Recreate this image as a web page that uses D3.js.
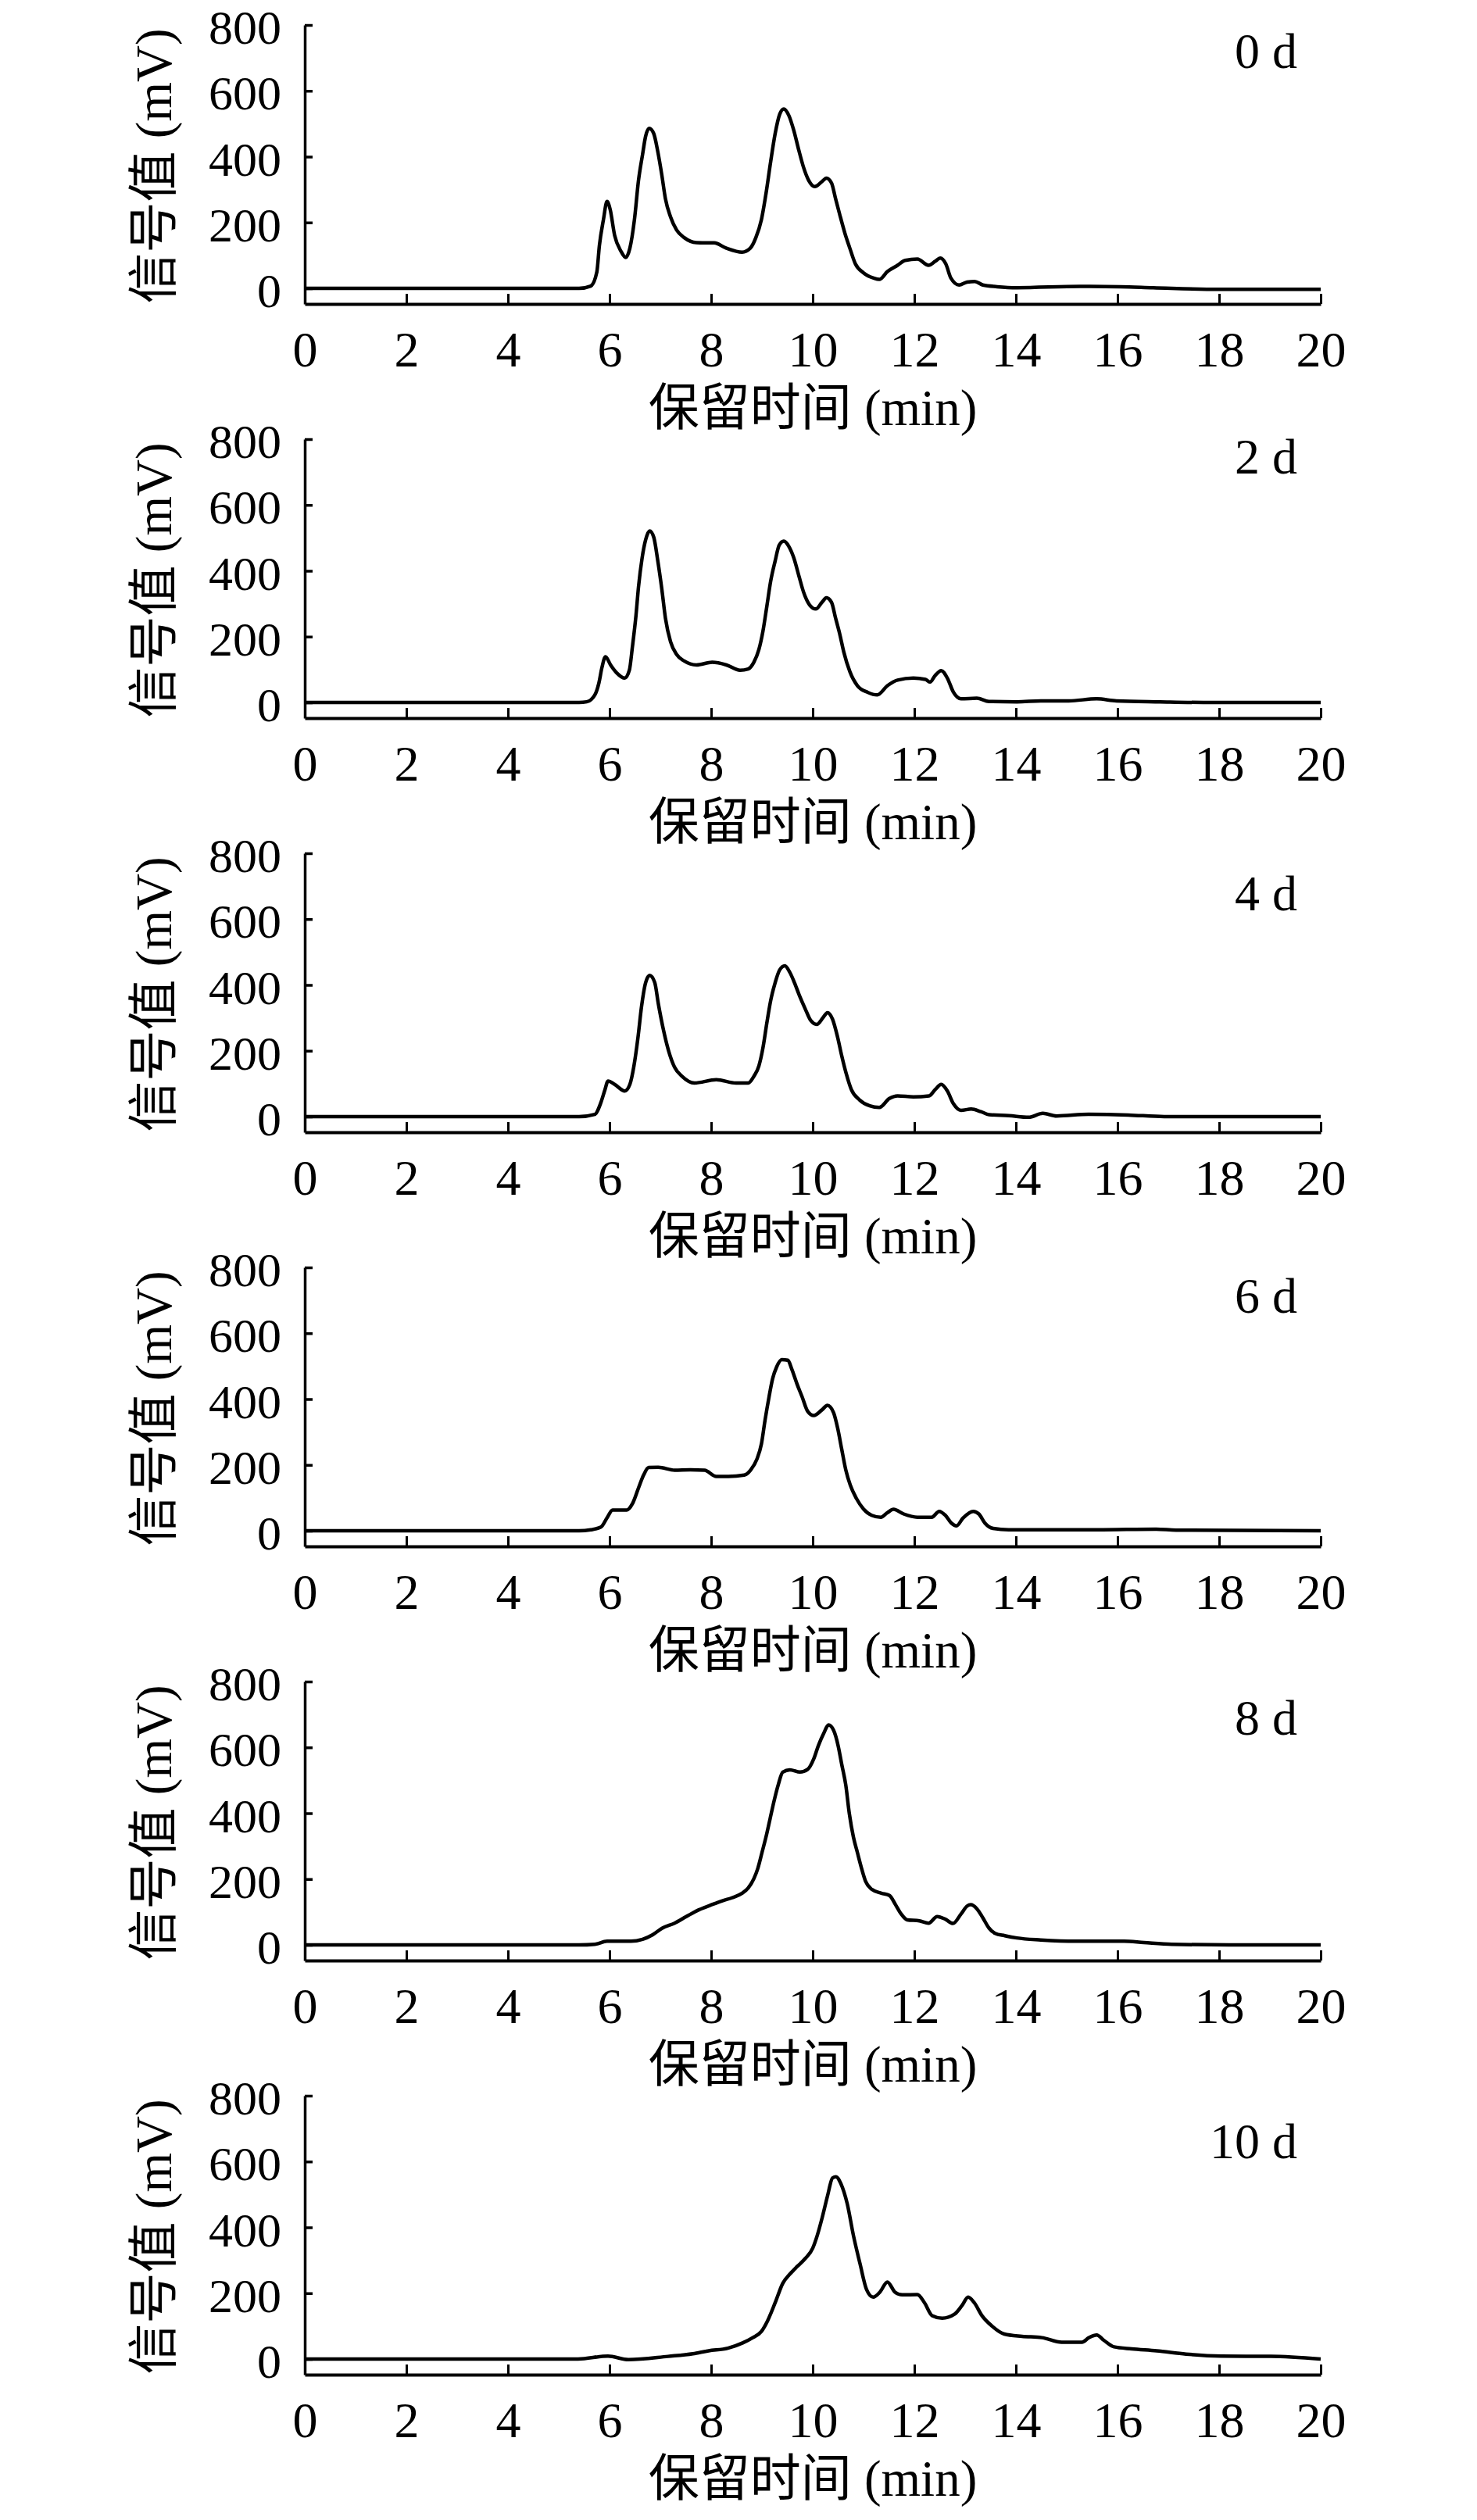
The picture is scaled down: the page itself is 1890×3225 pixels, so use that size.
<!DOCTYPE html>
<html>
<head>
<meta charset="utf-8">
<script src="https://cdn.jsdelivr.net/npm/d3@7"></script>
<style>
  html, body { margin: 0; padding: 0; background: #fff; }
  svg text { font-family: "Liberation Serif", "Times New Roman", "Noto Sans CJK SC", serif; fill: #000; }
</style>
</head>
<body>
<svg id="chart" width="1890" height="3225"></svg>
<script>
// ---- data (retention time in min, signal in mV) ----
const panelLabels = ["0 d", "2 d", "4 d", "6 d", "8 d", "10 d"];
const xTicks = [0, 2, 4, 6, 8, 10, 12, 14, 16, 18, 20];
const yTicks = [0, 200, 400, 600, 800];
const xTitle = "保留时间 (min)";
const yTitle = "信号值 (mV)";

const day0 = [[0,0],[5.4,0],[5.63,7],[5.75,50],[5.8,130],[5.88,209],[5.95,264],[6.01,241],[6.1,161],[6.22,114],[6.32,94],[6.4,122],[6.49,209],[6.57,328],[6.65,407],[6.71,462],[6.78,486],[6.87,470],[6.95,415],[7.03,343],[7.1,272],[7.2,217],[7.32,177],[7.47,154],[7.71,139],[8.06,138],[8.3,122],[8.61,110],[8.77,122],[8.88,154],[8.99,209],[9.08,288],[9.17,383],[9.26,470],[9.35,529],[9.43,545],[9.53,525],[9.63,478],[9.72,423],[9.82,367],[9.92,328],[10.04,309],[10.18,324],[10.27,335],[10.37,320],[10.45,272],[10.53,225],[10.63,169],[10.73,122],[10.84,74],[11.0,47],[11.2,31],[11.31,27],[11.47,51],[11.67,70],[11.82,85],[12.06,89],[12.28,70],[12.41,82],[12.51,92],[12.62,74],[12.72,31],[12.88,10],[13.04,19],[13.19,21],[13.35,10],[13.63,5],[14.02,2],[15.27,6],[16.06,5],[16.7,2],[18.0,-3],[20,-3]];

const day2 = [[0,0],[5.4,0],[5.55,2],[5.71,23],[5.79,59],[5.85,106],[5.92,139],[6.02,114],[6.14,90],[6.3,74],[6.39,98],[6.45,169],[6.52,264],[6.57,351],[6.64,438],[6.71,494],[6.79,521],[6.87,502],[6.95,430],[7.03,343],[7.1,256],[7.2,185],[7.32,146],[7.47,126],[7.71,114],[8.02,122],[8.3,114],[8.57,98],[8.73,102],[8.84,122],[8.94,161],[9.02,217],[9.1,296],[9.17,367],[9.26,430],[9.34,478],[9.43,490],[9.53,474],[9.63,438],[9.73,383],[9.82,335],[9.94,296],[10.06,284],[10.18,304],[10.27,318],[10.37,304],[10.45,256],[10.53,209],[10.61,154],[10.73,94],[10.88,51],[11.08,31],[11.27,23],[11.47,51],[11.67,68],[11.98,74],[12.22,70],[12.31,62],[12.41,82],[12.53,97],[12.65,74],[12.77,31],[12.92,11],[13.23,13],[13.47,3],[14.02,2],[14.49,5],[15.04,5],[15.59,11],[15.98,5],[16.84,2],[17.69,0],[20,0]];

const day4 = [[0,0],[5.4,0],[5.71,7],[5.83,43],[5.91,82],[5.97,108],[6.1,98],[6.3,78],[6.4,98],[6.48,154],[6.56,241],[6.63,335],[6.71,407],[6.79,429],[6.89,407],[6.96,343],[7.06,264],[7.16,201],[7.28,150],[7.43,122],[7.67,102],[8.1,112],[8.49,102],[8.73,102],[8.84,122],[8.94,154],[9.02,209],[9.1,288],[9.17,351],[9.26,407],[9.35,446],[9.45,458],[9.55,438],[9.64,407],[9.74,367],[9.85,328],[9.96,292],[10.08,280],[10.2,300],[10.29,316],[10.39,296],[10.49,241],[10.57,185],[10.66,130],[10.76,82],[10.92,51],[11.12,33],[11.31,28],[11.51,55],[11.67,63],[11.98,60],[12.29,63],[12.41,82],[12.53,98],[12.65,78],[12.77,39],[12.92,19],[13.12,23],[13.31,15],[13.47,6],[13.86,3],[14.25,-2],[14.53,10],[14.8,2],[15.43,7],[16.21,5],[16.92,0],[20,0]];

const day6 = [[0,0],[5.4,0],[5.63,3],[5.83,11],[5.95,39],[6.06,63],[6.34,63],[6.45,82],[6.57,130],[6.67,169],[6.77,192],[6.96,193],[7.28,184],[7.59,185],[7.87,184],[8.1,165],[8.34,165],[8.65,169],[8.78,185],[8.9,217],[8.99,264],[9.06,335],[9.14,407],[9.21,462],[9.29,498],[9.39,520],[9.51,518],[9.59,490],[9.69,446],[9.79,407],[9.9,363],[10.02,350],[10.18,367],[10.29,381],[10.41,359],[10.49,312],[10.57,248],[10.65,185],[10.74,138],[10.86,98],[11.0,66],[11.16,47],[11.34,41],[11.47,55],[11.59,65],[11.79,51],[12.06,41],[12.34,41],[12.49,59],[12.61,47],[12.73,23],[12.83,15],[12.96,39],[13.16,59],[13.27,51],[13.39,23],[13.55,7],[13.86,3],[15.6,3],[16.76,5],[17.15,2],[20,0]];

const day8 = [[0,0],[5.4,0],[5.71,2],[5.95,11],[6.42,11],[6.65,17],[6.85,31],[7.04,51],[7.28,66],[7.51,86],[7.75,106],[7.98,120],[8.22,134],[8.41,143],[8.61,157],[8.73,173],[8.84,201],[8.92,233],[9.0,280],[9.08,328],[9.16,383],[9.24,438],[9.32,486],[9.41,525],[9.55,532],[9.75,525],[9.9,533],[10.02,565],[10.11,605],[10.22,644],[10.31,668],[10.41,652],[10.5,605],[10.57,549],[10.65,486],[10.72,399],[10.8,328],[10.88,280],[10.96,233],[11.04,193],[11.16,169],[11.35,157],[11.51,150],[11.63,122],[11.74,94],[11.86,76],[12.1,73],[12.28,66],[12.45,86],[12.61,78],[12.76,65],[12.92,94],[13.04,118],[13.11,122],[13.23,110],[13.35,82],[13.47,51],[13.59,35],[13.78,28],[14.02,21],[14.49,15],[15.19,11],[16.13,11],[16.52,7],[17.07,2],[18.2,0],[20,0]];

const day10 = [[0,0],[5.38,0],[5.97,9],[6.37,-2],[7.15,8],[7.64,16],[7.95,25],[8.33,33],[8.62,49],[8.82,65],[8.99,84],[9.11,116],[9.26,171],[9.41,230],[9.55,258],[9.7,282],[9.85,305],[10.0,337],[10.09,376],[10.19,432],[10.29,495],[10.39,550],[10.46,554],[10.55,534],[10.68,471],[10.8,376],[10.93,290],[11.06,211],[11.19,188],[11.32,203],[11.47,234],[11.62,203],[11.76,195],[12.06,196],[12.2,171],[12.35,132],[12.55,124],[12.79,136],[12.94,163],[13.06,188],[13.18,171],[13.33,132],[13.53,100],[13.77,76],[14.12,69],[14.51,65],[14.9,51],[15.3,51],[15.44,65],[15.59,73],[15.73,57],[15.93,37],[16.28,31],[16.77,25],[17.35,15],[18.04,9],[19.02,8],[20,0]];

const series = [day0, day2, day4, day6, day8, day10];

// ---- layout ----
const svg = d3.select("#chart");
const left = 390, right = 1690;
const panelStep = 530, firstTop = 32, plotH = 357;
const labelBaselines = [55, 44, 73, 58, 68, 80];

const x = d3.scaleLinear().domain([0, 20]).range([left, right]);
const y = d3.scaleLinear().domain([-47.5, 800]).range([plotH, 0]);

const line = d3.line()
  .x(d => x(d[0]))
  .y(d => y(d[1]))
  .curve(d3.curveMonotoneX);

series.forEach((data, i) => {
  const g = svg.append("g").attr("transform", `translate(0,${firstTop + panelStep * i})`);

  // y axis
  const ya = g.append("g")
    .attr("transform", `translate(${left},0)`)
    .call(d3.axisLeft(y).tickValues(yTicks).tickSizeInner(-10).tickSizeOuter(0).tickPadding(30).tickFormat(d3.format("d")));
  ya.select(".domain").attr("stroke", "#000").attr("stroke-width", 3.5);
  ya.selectAll(".tick line").attr("stroke", "#000").attr("stroke-width", 3.5);
  ya.selectAll(".tick text").attr("font-size", 62).attr("dy", "0.38em")
    .style("font-family", "'Liberation Serif', serif");

  // x axis
  const xa = g.append("g")
    .attr("transform", `translate(0,${plotH})`)
    .call(d3.axisBottom(x).tickValues(xTicks).tickSizeInner(-13).tickSizeOuter(0).tickPadding(35).tickFormat(d3.format("d")));
  xa.select(".domain").attr("stroke", "#000").attr("stroke-width", 4);
  xa.selectAll(".tick line").attr("stroke", "#000").attr("stroke-width", 3);
  xa.selectAll(".tick text").attr("font-size", 64)
    .style("font-family", "'Liberation Serif', serif");

  // curve
  g.append("path")
    .datum(data)
    .attr("fill", "none")
    .attr("stroke", "#000")
    .attr("stroke-width", 4.5)
    .attr("stroke-linejoin", "round")
    .attr("d", line);

  // panel label
  g.append("text")
    .attr("x", 1660)
    .attr("y", labelBaselines[i])
    .attr("text-anchor", "end")
    .attr("font-size", 64)
    .text(panelLabels[i]);

  // y title
  g.append("text")
    .attr("transform", `translate(197,${(y(800) + plotH) / 2 + 2}) rotate(-90)`)
    .attr("text-anchor", "middle")
    .attr("dominant-baseline", "central")
    .attr("font-size", 65)
    .text(yTitle);

  // x title
  g.append("text")
    .attr("x", (left + right) / 2)
    .attr("y", plotH + 155)
    .attr("text-anchor", "middle")
    .attr("font-size", 65)
    .text(xTitle);
});
</script>
</body>
</html>
